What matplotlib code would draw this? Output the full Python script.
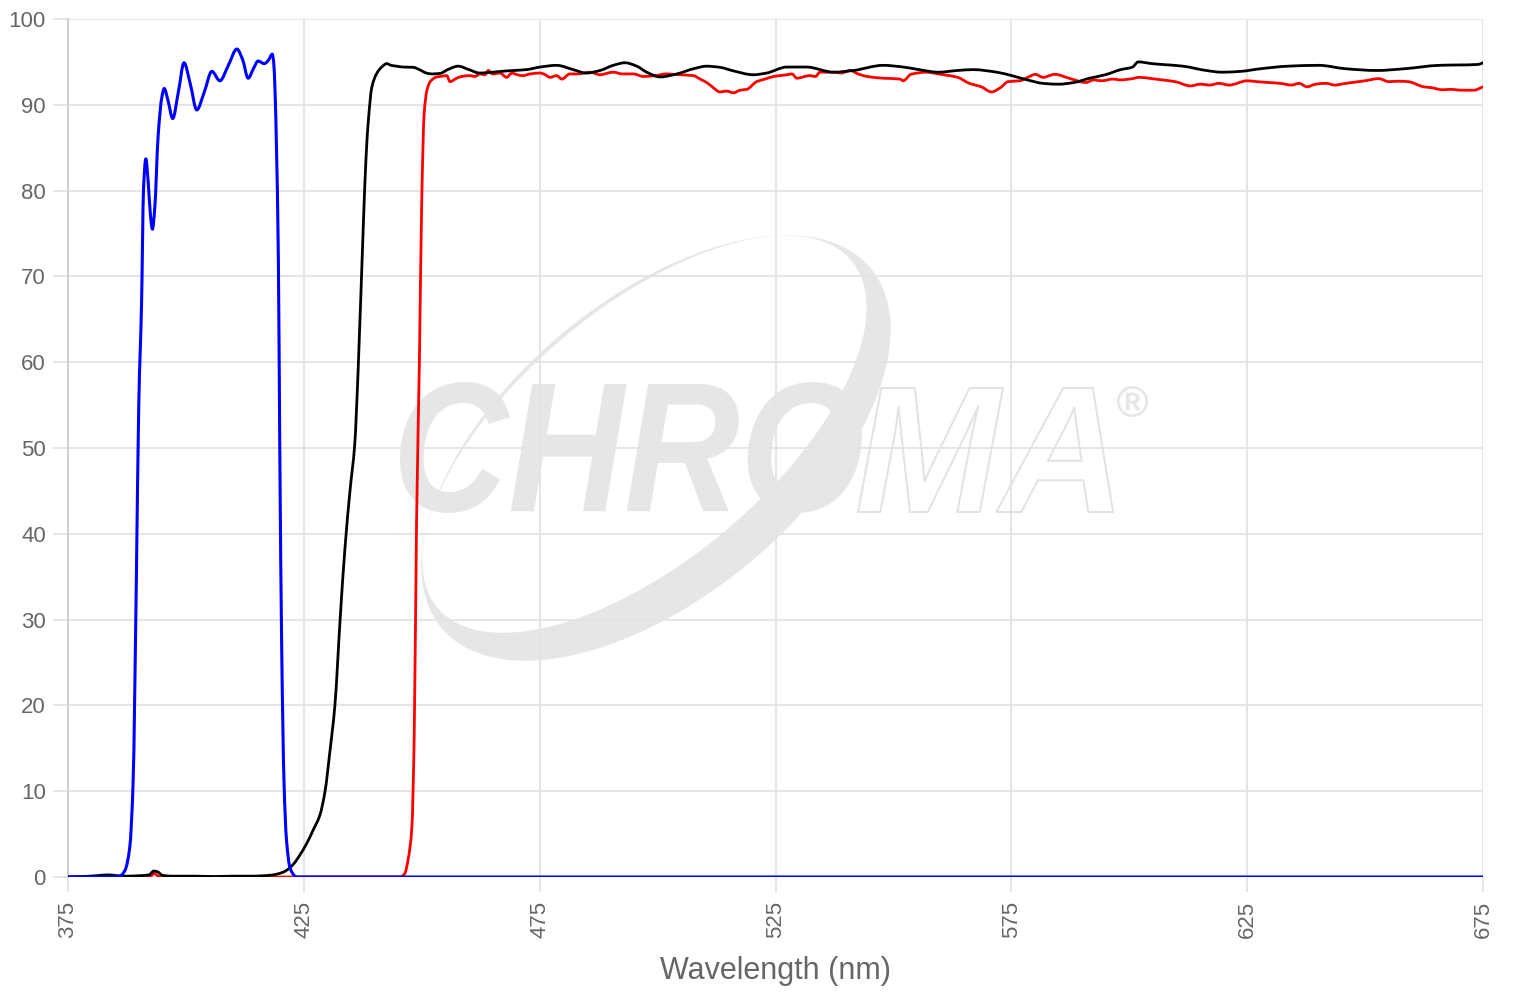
import numpy as np
import matplotlib
matplotlib.use("Agg")
import matplotlib.pyplot as plt
from matplotlib.path import Path
from matplotlib.patches import PathPatch
from matplotlib.textpath import TextPath
from matplotlib.font_manager import FontProperties
from matplotlib.transforms import Affine2D

# transmission spectra (%)
blue_wl = [375, 380, 384, 386, 387.1, 388.1, 388.8, 389.5, 390.0, 390.6, 391.0, 391.5,
           392.0, 392.5, 392.9, 393.4, 394.1, 394.9, 395.4, 396.2, 397.2, 398.4, 399.6,
           400.9, 402.3, 403.9, 405.5, 407.2, 409.0, 410.8, 412.0, 413.2, 414.3, 415.3,
           416.6, 417.5, 418.3, 418.6, 418.9, 419.2, 419.6, 419.9, 420.3, 420.8, 421.3,
           422.1, 423.5, 430, 675]
blue_t = [0, 0, 0, 0.1, 0.8, 3.5, 11, 35, 55, 67, 80, 83.7,
          81, 77, 75.5, 78, 86.3, 90.9, 91.9, 90.5, 88.4, 91.5, 94.9,
          92.5, 89.4, 91.5, 93.9, 92.8, 94.6, 96.5, 95.3, 93.1, 94.2, 95.1,
          94.8, 95.2, 95.9, 95.0, 91.5, 85, 72, 50, 27, 11, 4.5,
          1, 0, 0, 0]

black_wl = [375, 378, 381, 383.5, 385.5, 387.5, 390, 392.2, 393.2, 394, 395, 397, 402, 406,
            410, 414, 416.5, 418.5, 420.3, 421.4, 422.8, 424.2, 425.6, 427, 428.4, 429.5,
            430.5, 431.6, 432.7, 433.7, 434.8, 435.8, 436.5, 437.6, 438.2, 438.7, 439.4,
            440.4, 441.5, 442.6, 443.5, 444.7, 446, 448.2, 449.5, 451, 452.1, 453.9, 455.5,
            457.7, 460, 462.3, 465, 468.0, 472.2, 475.1, 478.6, 482.1, 484.9, 487.8, 490.6,
            493.1, 495.6, 497.7, 500.5, 504.1, 507.6, 510.4, 513.2, 516.1, 520.3, 523.1,
            527.4, 531.6, 537.3, 541.5, 547.8, 552.1, 555.4, 559.5, 563.6, 566.9, 571.9,
            575.1, 578.4, 581.7, 585.0, 588.3, 591.6, 594.9, 598.2, 600.7, 601.9, 604.8,
            611.4, 616.3, 619.6, 623.7, 627.8, 633.6, 640.2, 645.9, 652.5, 658.3, 665.7,
            673.9, 675]
black_t = [0, 0.05, 0.15, 0.25, 0.15, 0.1, 0.15, 0.25, 0.7, 0.6, 0.2, 0.1, 0.1, 0.05,
           0.1, 0.1, 0.15, 0.25, 0.5, 0.8, 1.5, 2.6, 3.9, 5.5, 7.2, 10,
           14.5, 20.1, 30.1, 38.2, 45.1, 50.5, 58.9, 75.8, 84, 88.3, 92,
           93.6, 94.4, 94.8, 94.6, 94.5, 94.4, 94.37, 94.1, 93.7, 93.6, 93.66, 94.1,
           94.5, 94.1, 93.7, 93.8, 93.95, 94.1, 94.4, 94.6, 94.1, 93.7, 94.0, 94.6,
           94.9, 94.5, 93.8, 93.25, 93.6, 94.2, 94.5, 94.37, 93.95, 93.5, 93.7,
           94.4, 94.4, 93.8, 94.0, 94.6, 94.4, 94.1, 93.8, 94.0, 94.1, 93.8,
           93.4, 92.9, 92.5, 92.4, 92.6, 93.1, 93.5, 94.1, 94.4, 95.0, 94.8,
           94.5, 94.0, 93.8, 93.9, 94.2, 94.5, 94.6, 94.2, 94.0, 94.2, 94.6,
           94.7, 94.9]

red_wl = [375, 390, 392.3, 393.3, 394.3, 396, 445.4, 446.4, 447.1, 447.9, 448.4, 448.9,
          449.5, 450.0, 450.5, 451.1, 451.8, 453.2, 453.9, 455.3, 456.0, 457.4, 458.5,
          460.2, 461.3, 462.3, 463.4, 464.1, 465, 466.6, 468.0, 469.1, 470.3, 471.5, 473,
          475.1, 476.2, 477.2, 478.6, 479.7, 481.4, 483, 485.7, 487.8, 489.5, 490.6, 492.5,
          494.9, 497.0, 499.5, 501.9, 504.5, 507.6, 509, 510.4, 511.8, 513.2, 514.6, 516.1,
          517.5, 518.9, 521.0, 522.8, 524.6, 527.4, 528.5, 529.5, 532.3, 533.5, 534.4,
          537.3, 539, 540.8, 542.5, 544.4, 547.8, 551.4, 552.1, 553.7, 557.0, 559.5, 563.6,
          566.1, 568.6, 570.8, 572.7, 574.3, 576.8, 578.5, 580.1, 581.7, 584.2, 587.5,
          590.8, 592.5, 594.1, 596.6, 598, 600.7, 602, 604.8, 607, 609.7, 613.0, 615,
          617.1, 619, 621.2, 625.0, 627, 629.5, 632, 634.4, 636, 637.7, 639.5, 641.8,
          643.5, 645.9, 650.0, 652.9, 655.0, 657, 659.1, 662.4, 664, 666.5, 668, 670.6,
          673.1, 675]
red_t = [0, 0, 0.05, 0.4, 0.05, 0, 0, 0.4, 2.0, 5.75, 16.4, 41.4,
         60.1, 78.9, 88.9, 91.7, 92.7, 93.25, 93.3, 93.4, 92.7, 93.1, 93.3,
         93.4, 93.3, 93.6, 93.5, 94.0, 93.6, 93.7, 93.2, 93.7, 93.5, 93.4, 93.6,
         93.7, 93.5, 93.2, 93.4, 93.0, 93.6, 93.6, 93.8, 93.5, 93.7, 93.8, 93.6,
         93.6, 93.3, 93.4, 93.6, 93.5, 93.4, 93.0, 92.6, 92.0, 91.5, 91.6, 91.4,
         91.7, 91.8, 92.7, 93.0, 93.3, 93.5, 93.6, 93.1, 93.4, 93.3, 93.8,
         93.8, 93.7, 94.0, 93.6, 93.3, 93.1, 93.0, 92.8, 93.55, 93.8, 93.6, 93.2,
         92.5, 92.1, 91.5, 92.0, 92.7, 92.8, 93.2, 93.55, 93.2, 93.55, 93.05,
         92.6, 92.9, 92.8, 93.0, 92.9, 93.05, 93.2, 93.05, 92.9, 92.7, 92.2, 92.4,
         92.3, 92.5, 92.3, 92.8, 92.7, 92.6, 92.5, 92.3, 92.5, 92.1, 92.4, 92.5,
         92.3, 92.5, 92.8, 93.05, 92.7, 92.75, 92.7, 92.1, 92.0, 91.75, 91.8, 91.7,
         91.7, 92.1]

x_ticks = [375, 425, 475, 525, 575, 625, 675]
y_ticks = list(range(0, 101, 10))

fig = plt.figure(figsize=(15.2, 10), dpi=100)
ax = fig.add_axes([68 / 1520, 123 / 1000, 1415 / 1520, 858 / 1000])


def smooth_path(x, y):
    # monotone cubic (Fritsch-Carlson) through the points, as bezier segments
    x = np.asarray(x, float)
    y = np.asarray(y, float)
    h = np.diff(x)
    d = np.diff(y) / h
    m = np.zeros_like(x)
    m[0], m[-1] = d[0], d[-1]
    for i in range(1, len(x) - 1):
        if d[i - 1] * d[i] > 0:
            w1 = 2 * h[i] + h[i - 1]
            w2 = h[i] + 2 * h[i - 1]
            m[i] = (w1 + w2) / (w1 / d[i - 1] + w2 / d[i])
    verts = [(x[0], y[0])]
    for i in range(len(x) - 1):
        verts += [(x[i] + h[i] / 3, y[i] + m[i] * h[i] / 3),
                  (x[i + 1] - h[i] / 3, y[i + 1] - m[i + 1] * h[i] / 3),
                  (x[i + 1], y[i + 1])]
    codes = [Path.MOVETO] + [Path.CURVE4] * (len(verts) - 1)
    return Path(verts, codes)


# --- watermark (pixel geometry of the reference -> axes fraction) ---
def frac(px, py):
    return (np.asarray(px) - 68) / 1415, (877 - np.asarray(py)) / 858


def ellipse_xy(cx, cy, a, b, theta_deg, n=240):
    th = np.radians(theta_deg)
    t = np.linspace(0, 2 * np.pi, n)
    ux, uy = np.cos(th), -np.sin(th)
    vx, vy = np.sin(th), np.cos(th)
    px = cx + a * np.cos(t) * ux + b * np.sin(t) * vx
    py = cy + a * np.cos(t) * uy + b * np.sin(t) * vy
    return np.column_stack(frac(px, py))


wm_col = "#e6e6e6"
ang = 40
vx, vy = np.sin(np.radians(ang)), np.cos(np.radians(ang))
outer = ellipse_xy(656, 448, 280, 148, ang)
inner = ellipse_xy(656 - 18 * vx, 448 - 18 * vy, 270, 126, ang)[::-1]
verts = np.vstack([outer, inner])
codes = ([Path.MOVETO] + [Path.LINETO] * (len(outer) - 2) + [Path.CLOSEPOLY]) * 2
ax.add_patch(PathPatch(Path(verts, codes), transform=ax.transAxes, facecolor=wm_col,
                       edgecolor="none", zorder=0.2))

logo_font = FontProperties(family="Liberation Sans", weight="bold", style="italic")


def logo_text(s, left, top, right, bottom, filled=True):
    path = TextPath((0, 0), s, size=1, prop=logo_font)
    ext = path.get_extents()
    x0, y0 = frac(left, bottom)
    x1, y1 = frac(right, top)
    tr = (Affine2D().translate(-ext.x0, -ext.y0)
          .scale((x1 - x0) / ext.width, (y1 - y0) / ext.height)
          .translate(x0, y0) + ax.transAxes)
    if filled:
        patch = PathPatch(path, transform=tr, facecolor=wm_col, edgecolor="none", zorder=0.2)
    else:
        patch = PathPatch(path, transform=tr, facecolor="none", edgecolor="#e2e2e2",
                          lw=1.4, zorder=0.2)
    ax.add_patch(patch)


logo_text("CHRO", 400, 382, 862, 513)
logo_text("MA", 858, 388, 1113, 512, filled=False)
logo_text("\u00ae", 1117, 386, 1148, 417)

# --- curves ---
for wl, t, col, lw, z in [(red_wl, red_t, "#ff0000", 2.0, 2),
                          (black_wl, black_t, "#000000", 2.0, 3),
                          (blue_wl, blue_t, "#0000ff", 2.2, 4)]:
    ax.add_patch(PathPatch(smooth_path(wl, t), facecolor="none", edgecolor=col, lw=lw,
                           joinstyle="round", capstyle="round", zorder=z))

ax.set_xlim(375, 675)
ax.set_ylim(0, 100)
ax.set_xticks(x_ticks)
ax.set_yticks(y_ticks)
ax.set_xticklabels([str(v) for v in x_ticks], rotation=90, fontfamily="Liberation Sans")
ax.set_yticklabels([str(v) for v in y_ticks], fontfamily="Liberation Sans")
ax.set_axisbelow(True)
ax.grid(True, color="#e3e3e3", lw=1.3)
for side in ["top", "right", "bottom"]:
    ax.spines[side].set_visible(False)
ax.spines["left"].set_color("#cfcfcf")
ax.spines["left"].set_linewidth(1.5)
ax.tick_params(axis="both", length=11, width=1.3, color="#e3e3e3",
               labelcolor="#666666", labelsize=16)
ax.tick_params(axis="x", pad=6)
ax.tick_params(axis="y", pad=5)
ax.set_xlabel("Wavelength (nm)", fontsize=22, color="#666666",
              fontfamily="Liberation Sans", labelpad=13)

fig.savefig("out.png", dpi=100)
